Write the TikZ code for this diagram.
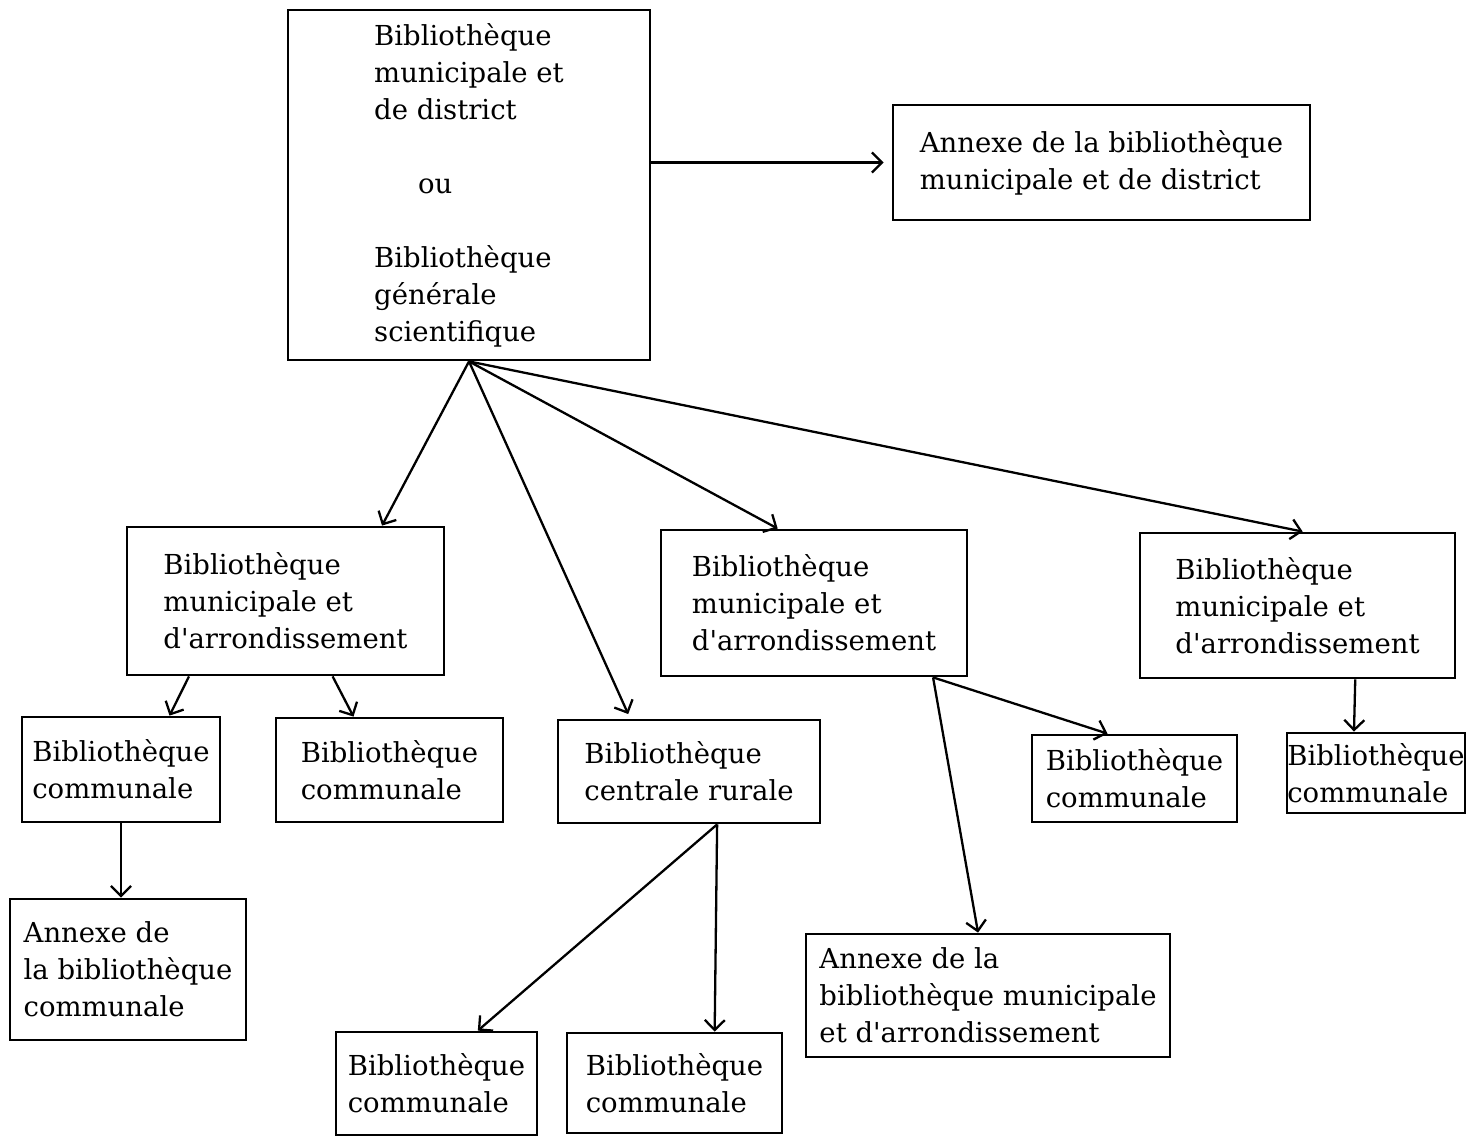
\documentclass[tikz,border=0pt]{standalone}
\usepackage{fontspec}
\setmainfont{DejaVu Serif}
\usetikzlibrary{arrows.meta}
\newcommand{\apos}{\textquotesingle}
\begin{document}
\begin{tikzpicture}[x=1pt, y=-1pt,
    every node/.style={font=\fontsize{27.5}{37}\selectfont},
    box/.style={draw, line width=2.8pt, align=left, inner sep=0pt},
    arr/.style={line width=2.3pt, -{Straight Barb[length=10pt,width=20pt]}}]
        \useasboundingbox (0,0) rectangle (1478,1138);
        % top level
        \node [box, minimum width=362, minimum height=350] (top) at (469,185)
            {Bibliothèque\\municipale et\\de district\\[37pt]\hspace*{44pt}ou\\[37pt]Bibliothèque\\générale\\scientifique};
        \node [box, minimum width=417, minimum height=115] (annexTop) at (1101.5,162.5)
            {Annexe de la bibliothèque\\municipale et de district};
        % second level
        \node [box, minimum width=317, minimum height=148] (mun1) at (285.5,601)
            {Bibliothèque\\municipale et\\d\apos arrondissement};
        \node [box, minimum width=306, minimum height=146] (mun2) at (814,603)
            {Bibliothèque\\municipale et\\d\apos arrondissement};
        \node [box, minimum width=315, minimum height=145] (mun3) at (1297.5,605.5)
            {Bibliothèque\\municipale et\\d\apos arrondissement};
        % third level
        \node [box, minimum width=198, minimum height=105] (com1) at (121,769.5)
            {Bibliothèque\\communale};
        \node [box, minimum width=227, minimum height=104] (com2) at (389.5,770)
            {Bibliothèque\\communale};
        \node [box, minimum width=262, minimum height=103] (crur) at (689,771.5)
            {Bibliothèque\\centrale rurale};
        \node [box, minimum width=205, minimum height=87] (com3) at (1134.5,778.5)
            {Bibliothèque\\communale};
        \node [box, minimum width=178, minimum height=80] (com4) at (1376,773)
            {Bibliothèque\\communale};
        % fourth level
        \node [box, minimum width=236, minimum height=141] (annexCom) at (128,969.5)
            {Annexe de\\la bibliothèque\\communale};
        \node [box, minimum width=364, minimum height=123] (annex2) at (988,995.5)
            {Annexe de la\\bibliothèque municipale\\et d\apos arrondissement};
        \node [box, minimum width=201, minimum height=103] (comA) at (436.5,1083.5)
            {Bibliothèque\\communale};
        \node [box, minimum width=215, minimum height=100] (comB) at (674.5,1083)
            {Bibliothèque\\communale};
        % connectors
        \draw [arr, shorten >=8pt] (top.east |- annexTop.west) -- (annexTop.west);
        \draw [arr] (top.south) -- (mun1.38);
        \draw [arr, shorten >=5pt] (top.south) -- (crur.138);
        \draw [arr] (top.south) -- (mun2.116);
        \draw [arr] (top.south) -- (mun3.86);
        \draw [arr] (mun1.218) -- (com1.48);
        \draw [arr] (mun1.-58) -- (com2.124);
        \draw [arr] (mun2.-32) -- (com3.121);
        \draw [arr] (mun2.-32) -- (annex2.99);
        \draw [arr] (mun3.-52) -- (com4.118);
        \draw [arr] (com1.south) -- (com1.south |- annexCom.north);
        \draw [arr] (crur.-62) -- (comA.52);
        \draw [arr] (crur.-62) -- (comB.52);
\end{tikzpicture}
\end{document}
